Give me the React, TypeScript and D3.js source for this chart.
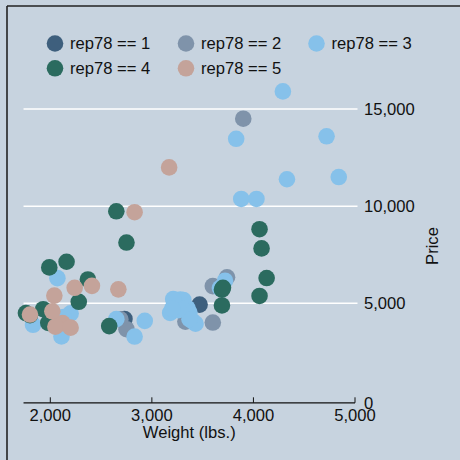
import React from "react";
import * as d3 from "d3";

// Stata auto dataset: weight (lbs.), price, rep78 (missing rep78 omitted)
const weights = [2930, 3350, 3250, 4080, 3670, 3280, 3880, 3400, 4330, 3900, 4290, 2110, 3690, 3180, 3220, 2750, 3430, 2120, 3600, 3600, 3740, 1800, 2650, 4840, 4720, 3830, 2580, 4060, 3720, 3370, 4130, 2830, 4060, 3310, 3300, 3690, 3370, 2730, 4030, 3260, 1800, 2200, 3330, 3700, 3470, 3210, 3200, 2690, 2830, 2070, 2650, 2370, 2020, 2280, 2750, 2130, 2240, 1760, 1980, 1830, 2050, 2410, 2200, 2670, 2160, 2040, 1930, 1990, 3170];
const prices = [4099, 4749, 4816, 7827, 5788, 5189, 10372, 4082, 11385, 14500, 15906, 3299, 5705, 4504, 5104, 3667, 3955, 3984, 4010, 5886, 6342, 4389, 4187, 11497, 13594, 13466, 3829, 5379, 6165, 4516, 6303, 3291, 8814, 5172, 4733, 4890, 4181, 4195, 10371, 4647, 4425, 4482, 4060, 5798, 4934, 5222, 4723, 4172, 9690, 6295, 9735, 6229, 4589, 5079, 8129, 4296, 5799, 4499, 3995, 3895, 3798, 5899, 3748, 5719, 7140, 5397, 4697, 6850, 11995];
const rep78 = [3, 3, 3, 4, 3, 3, 3, 3, 3, 2, 3, 3, 4, 3, 2, 2, 3, 5, 2, 2, 2, 4, 3, 3, 3, 3, 4, 4, 3, 3, 4, 3, 4, 3, 3, 4, 3, 1, 3, 3, 5, 3, 2, 4, 1, 3, 3, 2, 5, 3, 4, 4, 5, 4, 4, 3, 5, 4, 4, 3, 5, 5, 5, 5, 4, 5, 4, 4, 5];

const groups = [1, 2, 3, 4, 5];
const groupLabels = ["rep78 == 1", "rep78 == 2", "rep78 == 3", "rep78 == 4", "rep78 == 5"];
const groupColors = ["#3e5f7d", "#7f93aa", "#86c1ea", "#2b6b5f", "#c4a39a"];
const xTicks = [2000, 3000, 4000, 5000];
const yTicks = [0, 5000, 10000, 15000];

export default function App() {
  const W = 460, H = 460;
  const x = d3.scaleLinear().domain([2000, 5000]).range([50.3, 355]);
  const y = d3.scaleLinear().domain([0, 15000]).range([400.5, 109]);
  const fmt = d3.format(",");
  const font = "'Liberation Sans', Arial, Helvetica, sans-serif";
  const fs = 16.6;
  const axisY = y(0) + 2.3;
  const xStart = x(1760) - 2.4;

  const legendPos = [
    { cx: 55, cy: 43.5 },
    { cx: 186, cy: 43.5 },
    { cx: 316.5, cy: 43.5 },
    { cx: 55, cy: 68.3 },
    { cx: 186, cy: 68.3 },
  ];

  return (
    <svg width={W} height={H} style={{ position: "absolute", left: 0, top: 0 }} fontFamily={font}>
      <rect x={0} y={0} width={W} height={H} fill="#c7d3df" />
      <line x1={7} y1={6} x2={W} y2={6} stroke="#222" strokeWidth={1.6} />
      <line x1={7} y1={6} x2={7} y2={H} stroke="#222" strokeWidth={1.6} />

      {/* gridlines + right y ticks */}
      {yTicks.filter((t) => t > 0).map((t) => (
        <line key={"g" + t} x1={xStart} x2={357.5} y1={y(t)} y2={y(t)} stroke="#ffffff" strokeWidth={1.5} />
      ))}
      {yTicks.map((t) => (
        <text key={"yl" + t} x={364} y={t === 0 ? axisY : y(t)} dy="0.35em" fontSize={fs} fill="#111">
          {fmt(t)}
        </text>
      ))}
      <text transform={`translate(438,246) rotate(-90)`} textAnchor="middle" fontSize={fs} fill="#111">
        Price
      </text>

      {/* points */}
      {groups.map((g, gi) => (
        <g key={"s" + g}>
          {weights.map((w, i) =>
            rep78[i] === g ? (
              <circle key={i} cx={x(w)} cy={y(prices[i])} r={8.3} fill={groupColors[gi]} />
            ) : null
          )}
        </g>
      ))}

      {/* x axis */}
      <line x1={xStart} x2={x(5000)} y1={axisY} y2={axisY} stroke="#111" strokeWidth={1.3} />
      {xTicks.map((t) => (
        <g key={"xt" + t}>
          <line x1={x(t)} x2={x(t)} y1={axisY} y2={axisY - 5.5} stroke="#111" strokeWidth={1} />
          <text x={x(t)} y={axisY + 12.5} dy="0.35em" textAnchor="middle" fontSize={fs} fill="#111">
            {fmt(t)}
          </text>
        </g>
      ))}
      <text x={(xStart + x(5000)) / 2} y={432} dy="0.35em" textAnchor="middle" fontSize={fs} fill="#111">
        Weight (lbs.)
      </text>

      {/* legend */}
      {groups.map((g, gi) => (
        <g key={"l" + g}>
          <circle cx={legendPos[gi].cx} cy={legendPos[gi].cy} r={8.3} fill={groupColors[gi]} />
          <text x={legendPos[gi].cx + 15} y={legendPos[gi].cy} dy="0.35em" fontSize={fs} fill="#111">
            {groupLabels[gi]}
          </text>
        </g>
      ))}
    </svg>
  );
}
